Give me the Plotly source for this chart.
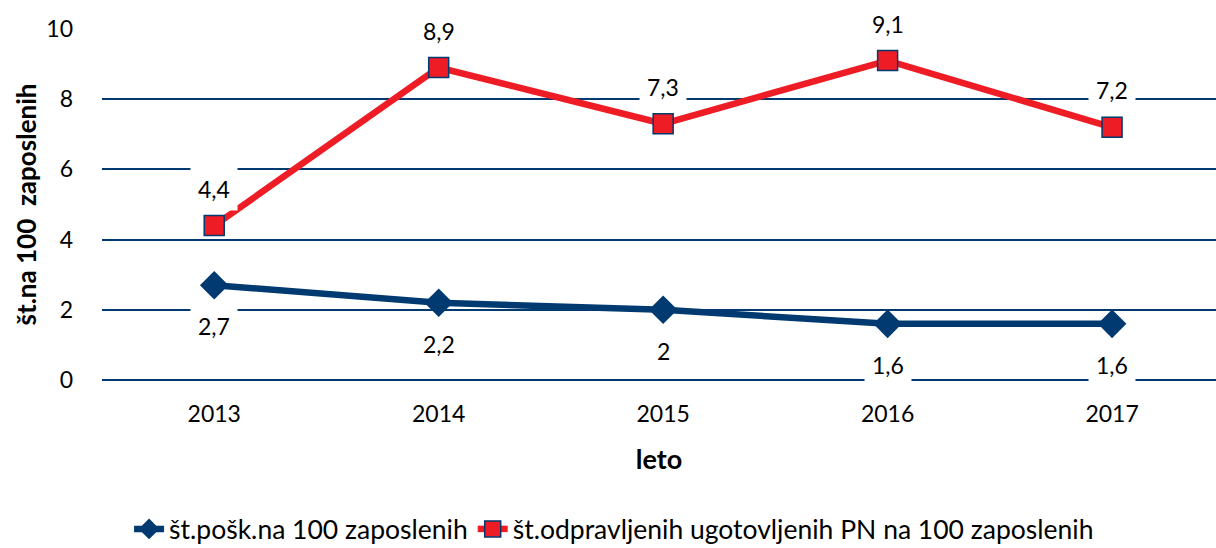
import plotly.graph_objects as go

years = ["2013", "2014", "2015", "2016", "2017"]
posk = [2.7, 2.2, 2.0, 1.6, 1.6]
odpr = [4.4, 8.9, 7.3, 9.1, 7.2]
posk_labels = ["2,7", "2,2", "2", "1,6", "1,6"]
odpr_labels = ["4,4", "8,9", "7,3", "9,1", "7,2"]
name_posk = "št.pošk.na 100 zaposlenih"
name_odpr = "št.odpravljenih ugotovljenih PN na 100 zaposlenih"

FONT = "Lato"
BLUE = "#003A70"
RED = "#EE1C25"

fig = go.Figure()
fig.add_trace(go.Scatter(
    x=years, y=posk, name=name_posk, mode="lines+markers",
    line=dict(color=BLUE, width=6.5),
    marker=dict(symbol="diamond", size=22, color=BLUE),
))
fig.add_trace(go.Scatter(
    x=years, y=odpr, name=name_odpr, mode="lines+markers",
    line=dict(color=RED, width=6.5),
    marker=dict(symbol="square", size=20, color=RED, line=dict(color=BLUE, width=1.5)),
))

for i, (yv, t) in enumerate(zip(odpr, odpr_labels)):
    fig.add_annotation(x=i, y=yv, text=t, showarrow=False, yshift=37,
                       bgcolor="white", font=dict(size=23, color="black", family=FONT),
                       borderpad=7)
for i, (yv, t) in enumerate(zip(posk, posk_labels)):
    fig.add_annotation(x=i, y=yv, text=t, showarrow=False, yshift=-41,
                       bgcolor="white", font=dict(size=23, color="black", family=FONT),
                       borderpad=7)

fig.update_layout(
    width=1216, height=548,
    margin=dict(l=102, r=0, t=29, b=168, autoexpand=False),
    paper_bgcolor="white", plot_bgcolor="white",
    font=dict(family=FONT, size=23, color="black"),
    showlegend=True,
    legend=dict(orientation="h", xref="container", yref="paper",
                x=0.505, xanchor="center", y=-0.425, yanchor="middle",
                font=dict(size=26.5), traceorder="normal"),
    xaxis=dict(type="category", range=[-0.5, 4.463], showgrid=False, zeroline=False,
               showline=False, ticks="", tickfont=dict(size=23), automargin=False,
               ticklabelstandoff=18,
               title=dict(text="<b>leto</b>", font=dict(size=27), standoff=24)),
    yaxis=dict(range=[0, 10], dtick=2, showgrid=True, gridcolor=BLUE, gridwidth=1.5,
               zeroline=True, zerolinecolor=BLUE, zerolinewidth=1.5, showline=False,
               ticks="", tickfont=dict(size=23), ticklabelstandoff=28, automargin=False,
               title=dict(text="<b>št.na 100  zaposlenih</b>", font=dict(size=26), standoff=2)),
)

fig.write_html(
    "out.html",
    config={"displayModeBar": False},
    post_script="document.body.style.margin='0';document.body.style.overflow='hidden';",
)
